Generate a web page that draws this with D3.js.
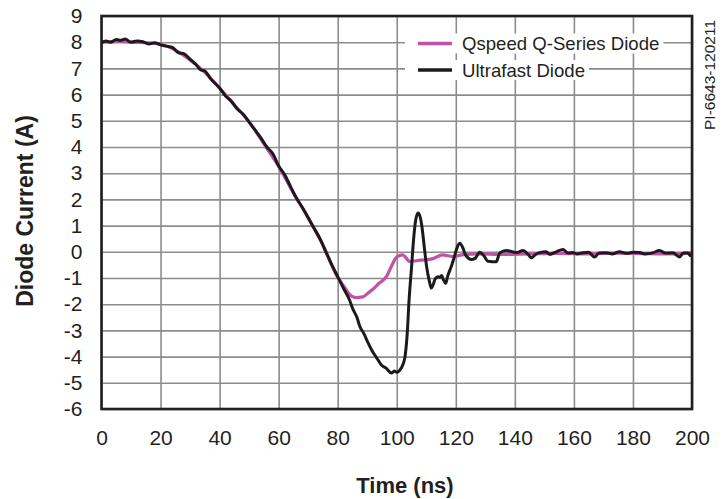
<!DOCTYPE html>
<html>
<head>
<meta charset="utf-8">
<script src="https://cdn.jsdelivr.net/npm/d3@7"></script>
<style>
  body { margin: 0; background: white; }
  text { font-family: "Liberation Sans", Arial, Helvetica, sans-serif; fill: #231f20; }
</style>
</head>
<body>
<div id="chart"></div>
<script>
var w = 726;
var h = 499;

var xTicks = [0, 20, 40, 60, 80, 100, 120, 140, 160, 180, 200];
var yTicks = [-6, -5, -4, -3, -2, -1, 0, 1, 2, 3, 4, 5, 6, 7, 8, 9];

var seriesNames = ["Qspeed Q-Series Diode", "Ultrafast Diode"];
var seriesColors = ["#c351a8", "#1c1a1b"];

// Qspeed diode, [time ns, current A]
var qspeed = [
  [0, 8.0], [3, 8.02], [6, 8.04], [10, 8.0], [15, 7.98], [20, 7.92], [25, 7.7],
  [30, 7.32], [35, 6.85], [40, 6.25], [45, 5.6], [50, 4.96], [55, 4.12],
  [60, 3.26], [65, 2.25], [70, 1.3], [75, 0.25], [80, -0.97], [82, -1.3],
  [84, -1.63], [86, -1.75], [88.5, -1.72], [90, -1.6], [92, -1.42], [94, -1.2],
  [96.5, -0.95], [98, -0.6], [100, -0.2], [102, -0.12], [104.5, -0.37],
  [108, -0.32], [112, -0.27], [115.5, -0.12], [119, -0.18], [122, -0.12],
  [128, -0.08], [135, -0.1], [145, -0.08], [155, -0.06], [165, -0.08],
  [175, -0.05], [185, -0.07], [195, -0.08], [200, -0.03]
];

// ultrafast diode, [time ns, current A]
var ultrafast = [
  [0, 7.98], [1.5, 8.05], [3, 8.0], [5, 8.1], [6.5, 8.07], [8, 8.12], [10, 8.0],
  [12, 8.05], [14, 8.02], [16, 7.93], [18, 7.98], [20, 7.9], [22, 7.85],
  [24, 7.8], [26, 7.6], [28, 7.55], [30, 7.35], [32, 7.15], [33.5, 6.95],
  [35, 6.9], [37, 6.6], [40, 6.25], [42, 5.95], [44, 5.75], [46, 5.45],
  [48, 5.25], [50, 4.95], [52, 4.65], [54, 4.35], [56, 4.0], [58, 3.75],
  [60, 3.28], [62, 2.95], [64, 2.5], [66, 2.05], [68, 1.7], [70, 1.3],
  [72, 0.9], [74, 0.5], [76, 0.0], [78, -0.5], [80, -0.95], [82, -1.4],
  [84, -1.84], [85.2, -2.2], [86.5, -2.5], [87.5, -2.85], [89, -3.15],
  [90.3, -3.48], [91.5, -3.75], [92.5, -3.93], [93.5, -4.1], [94.8, -4.32],
  [96.5, -4.45], [98.2, -4.63], [99.2, -4.55], [100, -4.6], [101, -4.52],
  [102.1, -4.3], [102.8, -4.0], [103.5, -3.2], [104.2, -1.8], [105, -0.6],
  [105.8, 0.6], [106.4, 1.2], [107.2, 1.48], [108, 1.3], [108.6, 0.9],
  [109.4, 0.1], [110.1, -0.55], [111, -1.1], [111.7, -1.38], [112.5, -1.2],
  [112.9, -1.06], [114, -0.95], [114.6, -0.98], [115.2, -0.9], [115.7, -1.04],
  [116.6, -1.2], [117.2, -0.95], [118.5, -0.55], [119.5, -0.2], [120.2, 0.08],
  [121.3, 0.33], [122.4, 0.15], [123, -0.04], [123.6, -0.17], [125.3, -0.29],
  [126.5, -0.25], [128.1, -0.02], [129.5, -0.15], [130.9, -0.36], [133.7, -0.38],
  [134.9, -0.04], [137.1, 0.05], [140.5, -0.03], [142.8, 0.05], [144.5, -0.1],
  [145.6, -0.23], [147, -0.1], [148.4, -0.03], [150.6, 0], [151.8, -0.1],
  [154, 0.0], [156.3, 0.09], [158, -0.05], [159.6, -0.03], [161, -0.08],
  [163, -0.04], [165, -0.02], [167, -0.2], [168.5, -0.05], [170.9, -0.04],
  [173, -0.08], [175.4, 0.0], [178, -0.06], [180, -0.02], [182.2, -0.03],
  [184, -0.08], [186.7, -0.04], [189, 0.05], [191, -0.05], [193.5, -0.04],
  [195.8, -0.2], [197, -0.05], [198.6, -0.05], [199.5, -0.15], [200, -0.05]
];

var plotL = 101.5, plotR = 692, plotT = 16, plotB = 409;

var xScale = d3.scaleLinear()
               .domain([0, 200])
               .range([plotL, plotR]);

var yScale = d3.scaleLinear()
               .domain([-6, 9])
               .range([plotB, plotT]);

var canvas = d3.select("#chart")
               .append("svg")
               .attr("width", w)
               .attr("height", h)
               .style("background-color", "white");

// grid + tick labels (plain hyphen for negatives, like the original)
var xAxis = d3.axisBottom(xScale).tickValues(xTicks).tickFormat(d => String(d))
              .tickSize(-(plotB - plotT)).tickPadding(21);
var yAxis = d3.axisLeft(yScale).tickValues(yTicks).tickFormat(d => String(d))
              .tickSize(-(plotR - plotL)).tickPadding(19);

var gx = canvas.append("g")
    .attr("transform", `translate(0, ${plotB})`)
    .call(xAxis);

var gy = canvas.append("g")
    .attr("transform", `translate(${plotL}, 0)`)
    .call(yAxis);

[gx, gy].forEach(function(g) {
  g.select(".domain").remove();
  g.selectAll("line").attr("stroke", "#8c8c8c").attr("stroke-width", 1.6);
  g.selectAll("text")
   .style("font-size", "21px")
   .style("font-family", "'Liberation Sans', Arial, sans-serif")
   .attr("fill", "#231f20");
});

canvas.append("clipPath")
    .attr("id", "plotclip")
    .append("rect")
    .attr("x", plotL).attr("y", plotT)
    .attr("width", plotR - plotL).attr("height", plotB - plotT);

var line = d3.line()
    .x(d => xScale(d[0]))
    .y(d => yScale(d[1]))
    .curve(d3.curveMonotoneX);

var plot = canvas.append("g").attr("clip-path", "url(#plotclip)");

plot.append("path")
    .attr("d", line(qspeed))
    .attr("fill", "none")
    .attr("stroke", seriesColors[0])
    .attr("stroke-width", 3.2)
    .attr("stroke-linejoin", "round");

plot.append("path")
    .attr("d", line(ultrafast))
    .attr("fill", "none")
    .attr("stroke", seriesColors[1])
    .attr("stroke-width", 3)
    .attr("stroke-linejoin", "round");

// frame
canvas.append("rect")
    .attr("x", plotL)
    .attr("y", plotT)
    .attr("width", plotR - plotL)
    .attr("height", plotB - plotT)
    .attr("fill", "none")
    .attr("stroke", "#231f20")
    .attr("stroke-width", 2.6);

// legend
var legend = canvas.append("g")
    .attr("class", "legend")
    .attr("transform", "translate(405, 43.5)");

seriesNames.forEach(function(name, i) {
  var row = legend.append("g").attr("transform", `translate(0, ${i * 26.5})`);
  var bg = row.append("rect")
      .attr("x", 0).attr("y", -10)
      .attr("height", 20)
      .attr("fill", "white");
  row.append("line")
      .attr("x1", 13).attr("x2", 47)
      .attr("y1", 0).attr("y2", 0)
      .attr("stroke", seriesColors[i])
      .attr("stroke-width", 3.5);
  var t = row.append("text")
      .attr("x", 57)
      .attr("y", 6.5)
      .style("font-size", "18.6px")
      .text(name);
  bg.attr("width", 57 + t.node().getComputedTextLength() + 4);
});

// axis titles
canvas.append("text")
    .attr("text-anchor", "middle")
    .attr("x", 405)
    .attr("y", 493)
    .style("font-size", "22px")
    .style("font-weight", "bold")
    .text("Time (ns)");

canvas.append("text")
    .attr("text-anchor", "middle")
    .attr("transform", "translate(33, 211) rotate(-90)")
    .style("font-size", "23px")
    .style("font-weight", "bold")
    .text("Diode Current (A)");

canvas.append("text")
    .attr("text-anchor", "middle")
    .attr("transform", "translate(714.5, 75) rotate(-90)")
    .style("font-size", "15.5px")
    .text("PI-6643-120211");
</script>
</body>
</html>
